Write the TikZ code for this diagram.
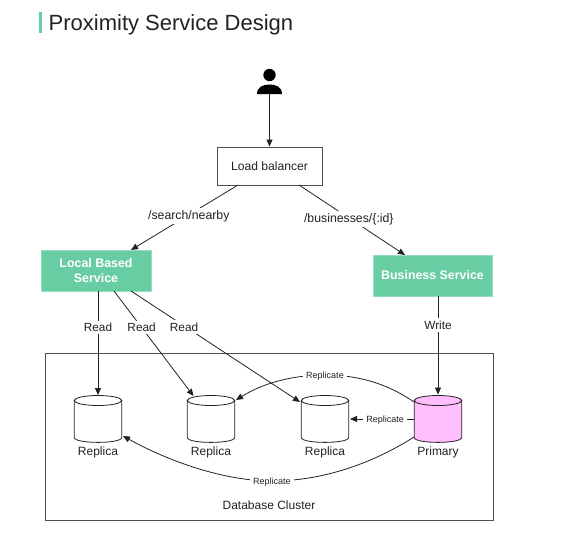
\documentclass[tikz,border=0pt]{standalone}
\usepackage{fontspec}
\setmainfont{Liberation Sans}
\usetikzlibrary{arrows.meta}
\definecolor{mint}{HTML}{69CDA4}
\definecolor{ink}{HTML}{222222}
\definecolor{pinkfill}{HTML}{FFBFFF}
\tikzset{
  lin/.style={draw=ink,line width=0.8pt},
  arr/.style={lin,-{Triangle[length=7pt,width=6pt]}},
  plainbox/.style={draw=ink!80,line width=0.9pt,fill=white,inner sep=0pt},
  svc/.style={fill=mint,draw=mint!70!white,line width=0.6pt,text=white,font=\fontsize{12.4}{14.5}\selectfont\bfseries,align=center,inner sep=0pt},
  lab/.style={fill=white,text=ink,font=\fontsize{11.8}{14}\selectfont,inner sep=2.5pt},
  pathlab/.style={lab,font=\fontsize{12.3}{14}\selectfont},
  small/.style={fill=white,text=ink,font=\fontsize{9}{10}\selectfont,inner sep=3pt},
  txt/.style={text=ink,font=\fontsize{12}{14}\selectfont,inner sep=0pt},
  db/.style={rectangle,minimum width=48pt,minimum height=48pt,inner sep=0pt},
  pics/dbpic/.style={code={
    \path[lin,fill=#1] (-23.7,-18.5) -- (-23.7,18.5) .. controls (-23.7,25) and (23.7,25) .. (23.7,18.5) -- (23.7,-18.5) -- cycle;
    \path[lin,fill=#1] (0,-18.5) ellipse [x radius=23.7, y radius=5];
  }},
}
\begin{document}
\begin{tikzpicture}[x=1pt,y=-1pt]
\useasboundingbox (0,0) rectangle (571,539);
% title
\fill[mint] (39,12) rectangle (42,33);
\node[anchor=west,inner sep=0pt,text=ink,font=\fontsize{22}{26}\selectfont] (title) at (48.5,25) {Proximity Service Design};
% user
\fill[black] (269.5,75) circle (6.2);
\fill[black] (257,94) .. controls (257,87) and (263,84.5) .. (269.5,84.5) .. controls (276,84.5) and (282,87) .. (282,94) -- cycle;
\coordinate (user) at (269.5,94);
% boxes
\node[plainbox,minimum width=105pt,minimum height=38pt,text=ink,font=\fontsize{12.1}{14}\selectfont] (lb) at (269.5,166) {Load balancer};
\node[svc,minimum width=110pt,minimum height=41pt] (local) at (96,270.5) {Local Based\\Service};
\node[svc,minimum width=119pt,minimum height=41pt] (biz) at (432.5,275.5) {Business Service};
\node[draw=ink!80,line width=0.9pt,minimum width=448pt,minimum height=167pt,inner sep=0pt] (cluster) at (269,436.5) {};
\node[txt] (clabel) at (269,505.5) {Database Cluster};
% databases
\node[db] (r1) at (98,419) {};
\node[db] (r2) at (211,419) {};
\node[db] (r3) at (325,419) {};
\node[db] (pr) at (438,419) {};
\pic at (r1) {dbpic=white};
\pic at (r2) {dbpic=white};
\pic at (r3) {dbpic=white};
\pic at (pr) {dbpic=pinkfill};
\node[txt] (t1) at (98,452) {Replica};
\node[txt] (t2) at (211,452) {Replica};
\node[txt] (t3) at (325,452) {Replica};
\node[txt] (t4) at (438,452) {Primary};
% anchors on the edges
\coordinate (lbL) at (238,185);
\coordinate (lbR) at (299,185);
\coordinate (locT) at (131,250);
\coordinate (bizT) at (405,255);
\coordinate (locA) at (98,291);
\coordinate (locB) at (114,291);
\coordinate (locC) at (131,291);
\coordinate (r1T) at (98,395);
\coordinate (r2T) at (193.5,396);
\coordinate (r3T) at (300,402);
\coordinate (bizB) at (438,296);
\coordinate (prT) at (438,394.5);
\coordinate (pa) at (414,402);
\coordinate (pb) at (414,419);
\coordinate (pc) at (414,437);
\coordinate (r2R) at (236,400);
\coordinate (r3R) at (350,419);
\coordinate (r1R) at (123,436);
% connectors
\draw[arr] (user) -- (lb);
\draw[arr] (lbL) -- (locT) node[pathlab,pos=0.46,yshift=-1pt] {/search/nearby};
\draw[arr] (lbR) -- (bizT) node[pathlab,pos=0.47,yshift=-1pt] {/businesses/\{:id\}};
\draw[arr] (locA) -- (r1T) node[lab,pos=0.347,yshift=-0.5pt] {Read};
\draw[arr] (locB) -- (r2T) node[lab,pos=0.347,yshift=0pt] {Read};
\draw[arr] (locC) -- (r3T) node[lab,pos=0.32,xshift=-1pt,yshift=-0.5pt] {Read};
\draw[arr] (bizB) -- (prT) node[lab,pos=0.3,yshift=0.5pt] {Write};
\draw[arr] (pa) .. controls (385,382) and (355,375) .. (325,375) node[small,pos=1,yshift=-1.5pt] (rp1) {Replicate} .. controls (295,375) and (265,382) .. (r2R);
\draw[arr] (pb) -- (r3R) node[small,pos=0.45,yshift=-1.5pt] {Replicate};
\draw[arr] (pc) .. controls (370,465) and (320,481) .. (272,481) node[small,pos=1,yshift=-1.5pt] (rp2) {Replicate} .. controls (225,481) and (170,462) .. (r1R);
\end{tikzpicture}
\end{document}
